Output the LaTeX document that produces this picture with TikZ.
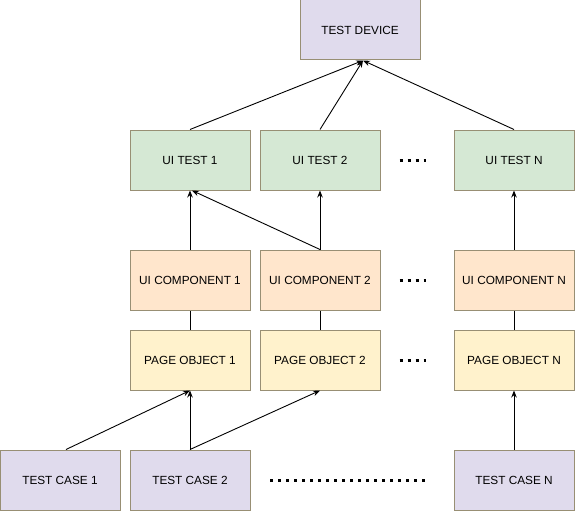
\documentclass[tikz,border=0pt]{standalone}
\usepackage{fontspec}
\setmainfont{Liberation Sans}
\usetikzlibrary{arrows.meta}

\definecolor{boxline}{HTML}{988F74}
\definecolor{devicefill}{HTML}{E0DBED}
\definecolor{testfill}{HTML}{D5E8D4}
\definecolor{compfill}{HTML}{FFE6CC}
\definecolor{pagefill}{HTML}{FFF2CC}

\begin{document}
\begin{tikzpicture}[
    x=1pt, y=-1pt,
    box/.style={rectangle, draw=boxline, line width=1pt, minimum width=120pt, minimum height=60pt, inner sep=0pt, text centered, font=\fontsize{11.8}{13}\selectfont},
    device/.style={box, fill=devicefill},
    uitest/.style={box, fill=testfill},
    uicomp/.style={box, fill=compfill},
    pageobj/.style={box, fill=pagefill},
    link/.style={-{Stealth[length=7pt, width=5.5pt]}, line width=0.9pt},
    plainlink/.style={line width=0.9pt},
    more/.style={line width=3pt, dash pattern=on 3pt off 5pt}
]
\useasboundingbox (0,0) rectangle (575,511);

% Device
\node[device] (td) at (360,30) {TEST DEVICE};

% UI tests
\node[uitest] (ut1) at (190,160) {UI TEST 1};
\node[uitest] (ut2) at (320,160) {UI TEST 2};
\node[uitest] (utn) at (514,160) {UI TEST N};

% UI components
\node[uicomp] (uc1) at (190,280) {UI COMPONENT 1};
\node[uicomp] (uc2) at (320,280) {UI COMPONENT 2};
\node[uicomp] (ucn) at (514,280) {UI COMPONENT N};

% Page objects
\node[pageobj] (po1) at (190,360) {PAGE OBJECT 1};
\node[pageobj] (po2) at (320,360) {PAGE OBJECT 2};
\node[pageobj] (pon) at (514,360) {PAGE OBJECT N};

% Test cases
\node[device] (tc1) at (60,480) {TEST CASE 1};
\node[device] (tc2) at (190,480) {TEST CASE 2};
\node[device] (tcn) at (514,480) {TEST CASE N};

% Arrows
\draw[link] (ut1.north) -- ([xshift=3pt]td.south);
\draw[link] (ut2.north) -- ([xshift=3pt]td.south);
\draw[link] (utn.north) -- ([xshift=3pt]td.south);
\draw[link] (uc1.north) -- (ut1.south);
\draw[link] (uc2.north) -- ([xshift=2pt]ut1.south);
\draw[link] (uc2.north) -- (ut2.south);
\draw[link] (ucn.north) -- (utn.south);
\draw[plainlink] (po1.north) -- (uc1.south);
\draw[plainlink] (po2.north) -- (uc2.south);
\draw[plainlink] (pon.north) -- (ucn.south);
\draw[link] ([xshift=6pt]tc1.north) -- (po1.south);
\draw[link] (tc2.north) -- (po1.south);
\draw[link] (tc2.north) -- (po2.south);
\draw[link] (tcn.north) -- (pon.south);

% More columns
\coordinate (m1) at (399.5,160);
\coordinate (m2) at (426,160);
\draw[more] (m1) -- (m2);
\draw[more] ([yshift=-120pt]m1) -- ([yshift=-120pt]m2);
\draw[more] ([yshift=-200pt]m1) -- ([yshift=-200pt]m2);
\coordinate (m3) at (270,480);
\draw[more] (m3) -- ([xshift=156pt]m3);

\end{tikzpicture}
\end{document}
